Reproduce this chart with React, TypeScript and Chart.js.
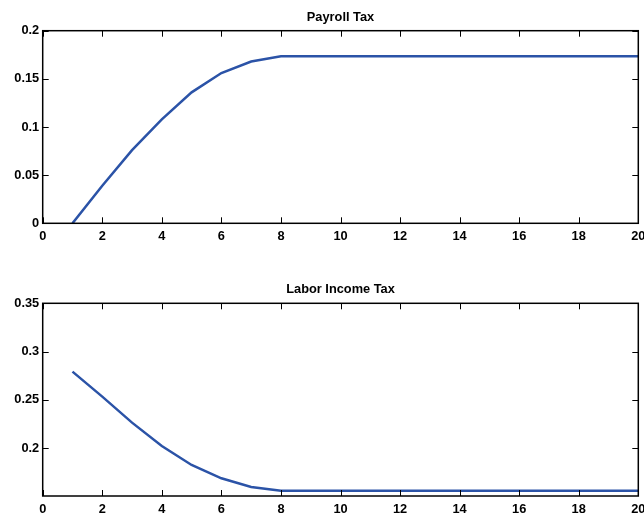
import React, { useEffect, useRef } from "react";
import { Chart, registerables } from "chart.js";

Chart.register(...registerables);

const periods = [1, 2, 3, 4, 5, 6, 7, 8, 9, 10, 11, 12, 13, 14, 15, 16, 17, 18, 19, 20];
const payrollTax = [0, 0.039, 0.076, 0.108, 0.136, 0.156, 0.168, 0.1734, 0.1734, 0.1734, 0.1734, 0.1734, 0.1734, 0.1734, 0.1734, 0.1734, 0.1734, 0.1734, 0.1734, 0.1734];
const laborIncomeTax = [0.2793, 0.2534, 0.2265, 0.2024, 0.1827, 0.1689, 0.16, 0.1561, 0.1561, 0.1561, 0.1561, 0.1561, 0.1561, 0.1561, 0.1561, 0.1561, 0.1561, 0.1561, 0.1561, 0.1561];
const xTicks = [0, 2, 4, 6, 8, 10, 12, 14, 16, 18, 20];
const xTickLabels = ["0", "2", "4", "6", "8", "10", "12", "14", "16", "18", "20"];
const payrollYTicks = [0, 0.05, 0.1, 0.15, 0.2];
const payrollYTickLabels = ["0", "0.05", "0.1", "0.15", "0.2"];
const laborYTicks = [0.2, 0.25, 0.3, 0.35];
const laborYTickLabels = ["0.2", "0.25", "0.3", "0.35"];
const titles = ["Payroll Tax", "Labor Income Tax"];

const LINE_COLOR = "#2b53a7";
const FONT = 'bold 12.8px "Liberation Sans", Arial, sans-serif';
const TITLE_FONT = 'bold 12.8px "Liberation Sans", Arial, sans-serif';

function makeAxesPlugin(title: string, yTicks: number[], yLabels: string[]) {
  return {
    id: "matlabAxes",
    afterDraw(chart: any) {
      const { ctx, chartArea } = chart;
      const xs = chart.scales.x;
      const ys = chart.scales.y;
      const { left, right, top, bottom } = chartArea;
      const tl = 6;
      ctx.save();
      ctx.strokeStyle = "#000";
      ctx.lineWidth = 1.5;
      ctx.strokeRect(left, top, right - left, bottom - top);
      ctx.lineWidth = 1;
      ctx.beginPath();
      xTicks.forEach((v) => {
        const px = Math.round(xs.getPixelForValue(v)) + 0.5;
        ctx.moveTo(px, bottom);
        ctx.lineTo(px, bottom - tl);
        ctx.moveTo(px, top);
        ctx.lineTo(px, top + tl);
      });
      yTicks.forEach((v) => {
        const py = Math.round(ys.getPixelForValue(v)) + 0.5;
        ctx.moveTo(left, py);
        ctx.lineTo(left + tl, py);
        ctx.moveTo(right, py);
        ctx.lineTo(right - tl, py);
      });
      ctx.stroke();
      ctx.fillStyle = "#000";
      ctx.font = FONT;
      ctx.textAlign = "center";
      ctx.textBaseline = "alphabetic";
      xTicks.forEach((v, i) => {
        ctx.fillText(xTickLabels[i], xs.getPixelForValue(v), bottom + 16.7);
      });
      ctx.textAlign = "right";
      ctx.textBaseline = "middle";
      yTicks.forEach((v, i) => {
        ctx.fillText(yLabels[i], left - 3.5, ys.getPixelForValue(v));
      });
      ctx.font = TITLE_FONT;
      ctx.textAlign = "center";
      ctx.textBaseline = "alphabetic";
      ctx.fillText(title, (left + right) / 2, top - 10);
      ctx.restore();
    },
  };
}

function makeConfig(
  values: number[],
  yMin: number,
  yMax: number,
  yTicks: number[],
  yLabels: string[],
  title: string,
  padTop: number,
  padBottom: number
): any {
  return {
    type: "line",
    data: {
      datasets: [
        {
          data: periods.map((p, i) => ({ x: p, y: values[i] })),
          borderColor: LINE_COLOR,
          borderWidth: 2.5,
          pointRadius: 0,
          fill: false,
          tension: 0,
        },
      ],
    },
    options: {
      responsive: false,
      animation: false,
      events: [],
      layout: { padding: { left: 42.7, right: 5.7, top: padTop, bottom: padBottom } },
      plugins: { legend: { display: false }, title: { display: false }, tooltip: { enabled: false } },
      scales: {
        x: { type: "linear", min: 0, max: 20, display: false },
        y: { type: "linear", min: yMin, max: yMax, display: false },
      },
    },
    plugins: [makeAxesPlugin(title, yTicks, yLabels)],
  };
}

export default function App() {
  const topRef = useRef<HTMLCanvasElement>(null);
  const botRef = useRef<HTMLCanvasElement>(null);

  useEffect(() => {
    const c1 = new Chart(
      topRef.current as HTMLCanvasElement,
      makeConfig(payrollTax, 0, 0.2, payrollYTicks, payrollYTickLabels, titles[0], 30.7, 35.7)
    );
    const c2 = new Chart(
      botRef.current as HTMLCanvasElement,
      makeConfig(laborIncomeTax, 0.1506, 0.35, laborYTicks, laborYTickLabels, titles[1], 44.3, 23)
    );
    return () => {
      c1.destroy();
      c2.destroy();
    };
  }, []);

  return (
    <div style={{ position: "fixed", left: 0, top: 0, width: 644, height: 519, background: "#fff" }}>
      <canvas ref={topRef} width={644} height={259} style={{ display: "block", width: 644, height: 259 }} />
      <canvas ref={botRef} width={644} height={260} style={{ display: "block", width: 644, height: 260 }} />
    </div>
  );
}
